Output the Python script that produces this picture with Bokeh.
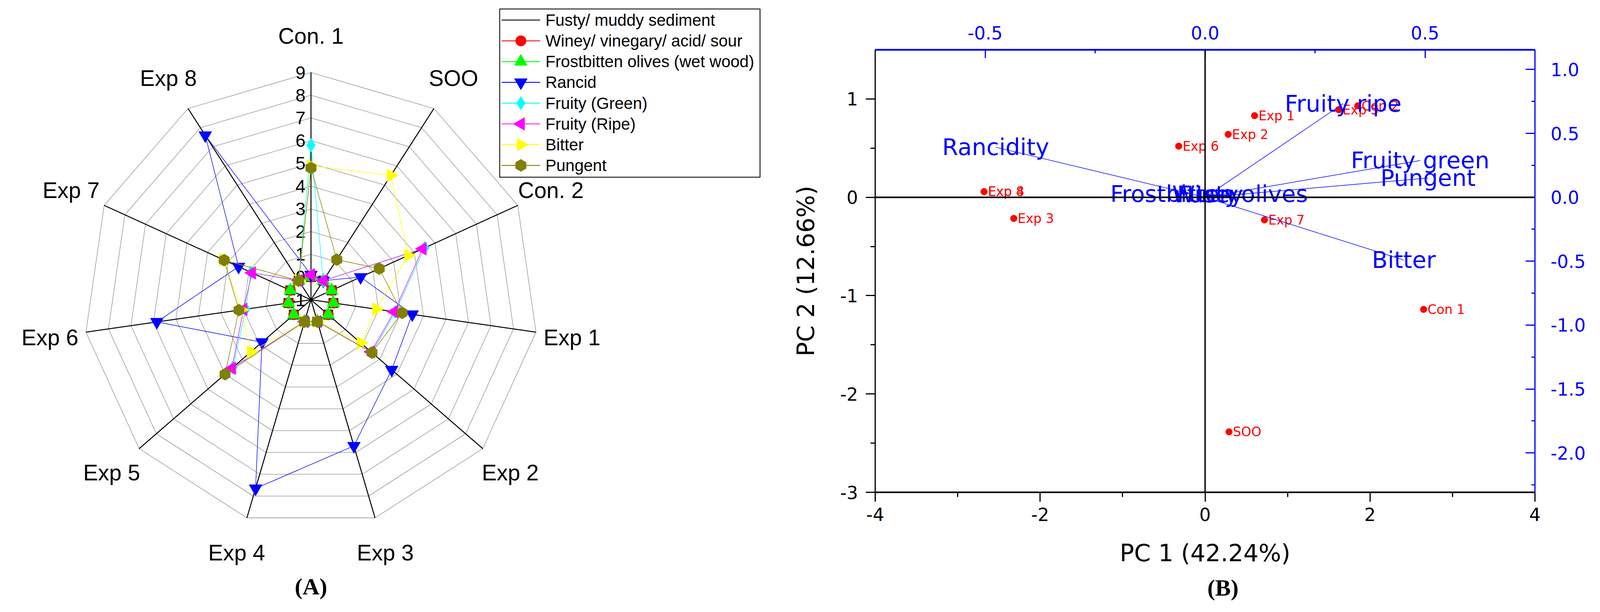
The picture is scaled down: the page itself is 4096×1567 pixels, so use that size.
import numpy as np
from bokeh.plotting import figure
from bokeh.models import Range1d, LinearAxis, FixedTicker, PrintfTickFormatter, Span
from bokeh.layouts import row
from bokeh.core.properties import value
from bokeh.embed import file_html
from bokeh.resources import INLINE

# ---------------- data: panel A (sensory radar) ----------------
radar_categories = ["Con. 1", "SOO", "Con. 2", "Exp 1", "Exp 2", "Exp 3",
                    "Exp 4", "Exp 5", "Exp 6", "Exp 7", "Exp 8"]
radar_tick_values = [-1, 0, 1, 2, 3, 4, 5, 6, 7, 8, 9]
radar_tick_labels = ["-1", "0", "1", "2", "3", "4", "5", "6", "7", "8", "9"]
radar_min, radar_max = -1, 9
attribute_names = ["Fusty/ muddy sediment", "Winey/ vinegary/ acid/ sour",
                   "Frostbitten olives (wet wood)", "Rancid", "Fruity (Green)",
                   "Fruity (Ripe)", "Bitter", "Pungent"]
fusty        = [0, 0, 0, 0, 0, 0, 0, 0, 0, 0, 0]
winey        = [0, 0, 0, 0, 0, 0, 0, 0, 0, 0, 0]
frostbitten  = [0, 0, 0, 0, 0, 0, 0, 0, 0, 0, 0]
rancid       = [0.1, 0.0, 1.4, 3.5, 3.7, 5.7, 7.65, 1.85, 5.85, 2.5, 7.6]
fruity_green = [5.8, 0.0, 4.5, 2.75, 2.55, 0.0, 0.0, 3.55, 1.9, 1.9, 0.0]
fruity_ripe  = [0.1, 0.0, 4.4, 2.7, 2.5, 0.0, 0.0, 3.6, 2.0, 1.85, 0.0]
bitter       = [4.9, 5.5, 3.7, 1.9, 1.9, 0.0, 0.0, 2.5, 2.1, 3.25, 0.0]
pungent      = [4.8, 1.1, 2.3, 3.05, 2.55, 0.0, 0.0, 4.0, 2.2, 3.2, 0.0]

# ---------------- data: panel B (PCA biplot) ----------------
sample_names = ["Con 1", "SOO", "Con 2", "Exp 1", "Exp 2", "Exp 3",
                "Exp 4", "Exp 5", "Exp 6", "Exp 7", "Exp 8"]
pc1_scores = [2.65, 0.29, 1.85, 0.60, 0.28, -2.32, -2.68, 1.62, -0.32, 0.72, -2.68]
pc2_scores = [-1.14, -2.385, 0.93, 0.83, 0.64, -0.215, 0.057, 0.89, 0.52, -0.23, 0.057]
loading_names = ["Frostbitten olives", "Fusty", "Winey", "Rancidity",
                 "Fruity green", "Fruity ripe", "Bitter", "Pungent"]
loading_pc1 = [0.009, 0.006, 0.006, -0.476, 0.489, 0.314, 0.452, 0.507]
loading_pc2 = [0.026, 0.024, 0.024, 0.392, 0.288, 0.733, -0.491, 0.151]
pc1_label = "PC 1 (42.24%)"
pc2_label = "PC 2 (12.66%)"
score_x_ticks = [-4, -2, 0, 2, 4]
score_x_minor = [-3, -1, 1, 3]
score_y_ticks = [-3, -2, -1, 0, 1]
score_y_minor = [-2.5, -1.5, -0.5, 0.5]
loading_x_ticks = [-0.5, 0.0, 0.5]
loading_x_minor = [-0.75, -0.25, 0.25, 0.75]
loading_y_ticks = [-2.0, -1.5, -1.0, -0.5, 0.0, 0.5, 1.0]
loading_y_minor = [-2.25, -1.75, -1.25, -0.75, -0.25, 0.25, 0.75]
panel_labels = ["(A)", "(B)"]

# ---------------- layout constants (pixels) ----------------
S = 0.951                      # reference -> page scale
SANS = "Liberation Sans"
WIDE = "DejaVu Sans"
SERIF = "Liberation Serif"
FT, FH, FB_BORDER = 127, 1133, 291   # shared frame top, frame height, bottom border
FBOT = FT + FH

def fig_px(ref):               # reference pixel -> figure pixel
    return ref * S - 8

# ================= Panel A =================
UNIT = 61.2 * S                # px per radar unit
WA = 1970
CXf, CYf = fig_px(845), fig_px(815)

def X(fx):
    return (fx - CXf) / UNIT

def Y(fy):
    return (CYf - fy) / UNIT

pA = figure(frame_width=WA, frame_height=FH, title=None,
            x_range=Range1d(X(0), X(WA)), y_range=Range1d(Y(FBOT), Y(FT)),
            x_axis_location=None, y_axis_location=None,
            toolbar_location=None, output_backend="svg",
            min_border_top=FT, min_border_bottom=FB_BORDER, min_border_left=0, min_border_right=0,
            outline_line_color=None, background_fill_color="white")
pA.grid.visible = False
LV = "overlay"   # draw without clipping to the frame

n = len(radar_categories)
ang = 2 * np.pi * np.arange(n) / n
sin_a, cos_a = np.sin(ang), np.cos(ang)
R = radar_max - radar_min

ring_xs, ring_ys = [], []
for t in radar_tick_values[1:]:
    r = t - radar_min
    ring_xs.append(list(np.append(r * sin_a, r * sin_a[0])))
    ring_ys.append(list(np.append(r * cos_a, r * cos_a[0])))
pA.multi_line(ring_xs, ring_ys, line_color="#8c8c8c", line_width=1.3, level=LV)
pA.segment(x0=[0] * n, y0=[0] * n, x1=list(R * sin_a), y1=list(R * cos_a),
           line_color="black", line_width=2.5, level=LV)

pA.text(x=[0] * len(radar_tick_values),
        y=[t - radar_min for t in radar_tick_values],
        text=radar_tick_labels, x_offset=-14, text_align="right", text_baseline="middle",
        text_font=value(SANS), text_font_size="46px", text_color="black", level=LV)
LR = 11.6
pA.text(x=list(LR * sin_a), y=list(LR * cos_a), text=radar_categories,
        text_align="center", text_baseline="middle",
        text_font=value(SANS), text_font_size="57px", text_color="black", level=LV)

series = [fusty, winey, frostbitten, rancid, fruity_green, fruity_ripe, bitter, pungent]
line_colors = ["#000000", "#ff0000", "#00ff00", "#0000ff", "#00ffff", "#ff00ff", "#ffff00", "#808000"]
markers = ["square", "circle", "triangle", "inverted_triangle", "diamond", "triangle", "triangle", "hex"]
angles = [0, 0, 0, 0, 0, np.pi / 2, -np.pi / 2, np.pi / 6]
sizes = [24, 27, 33, 33, 34, 33, 33, 31]

for vals, col, mk, an, sz in zip(series, line_colors, markers, angles, sizes):
    r = np.array(vals, dtype=float) - radar_min
    xs, ys = r * sin_a, r * cos_a
    pA.line(list(np.append(xs, xs[0])), list(np.append(ys, ys[0])),
            line_color=col, line_width=1.4, level=LV)
    pA.scatter(list(xs), list(ys), marker=mk, size=sz, angle=an,
               fill_color=col, line_color=col, level=LV)

# legend box (drawn as a framed key like the original)
LEG_FONT = 42
leg_left, leg_top, leg_bottom = fig_px(1353), fig_px(32), fig_px(485)
txt_x = fig_px(1476)
leg_right = txt_x + 12.75 * LEG_FONT + 14
pA.quad(left=[X(leg_left)], right=[X(leg_right)], top=[Y(leg_top)], bottom=[Y(leg_bottom)],
        fill_color="white", line_color="#222222", line_width=2.5, level=LV)
k = len(attribute_names)
row_y = [Y(fig_px(62 + 55.9 * i)) for i in range(k)]
pA.segment(x0=[X(fig_px(1358))] * k, x1=[X(fig_px(1462))] * k, y0=row_y, y1=row_y,
           line_color=line_colors, line_width=2.2, level=LV)
for i in range(k):
    pA.scatter([X(fig_px(1410))], [row_y[i]], marker=markers[i], size=sizes[i], angle=angles[i],
               fill_color=line_colors[i], line_color=line_colors[i], level=LV)
pA.text(x=[X(txt_x)] * k, y=row_y, text=attribute_names,
        text_align="left", text_baseline="middle",
        text_font=value(SANS), text_font_size=f"{LEG_FONT}px", text_color="black", level=LV)

pA.text(x=[0], y=[Y(fig_px(1587))], text=[panel_labels[0]],
        text_align="center", text_baseline="middle",
        text_font=value(SERIF), text_font_style="bold", text_font_size="60px",
        text_color="black", level=LV)

# ================= Panel B =================
FWB = 1689
pB = figure(frame_width=FWB, frame_height=FH, title=None,
            x_range=Range1d(-4, 4), y_range=Range1d(-3, 1.5),
            toolbar_location=None, output_backend="svg",
            min_border_left=270, min_border_right=151, min_border_top=FT, min_border_bottom=FB_BORDER,
            outline_line_color=None, background_fill_color="white")
pB.grid.visible = False
pB.extra_x_ranges = {"top": Range1d(-0.75, 0.75)}
pB.extra_y_ranges = {"right": Range1d(-3 / 1.3, 1.5 / 1.3)}

BLUE = "#0000ff"
xb = pB.xaxis[0]
xb.ticker = FixedTicker(ticks=score_x_ticks, minor_ticks=score_x_minor)
xb.formatter = PrintfTickFormatter(format="%d")
yl = pB.yaxis[0]
yl.ticker = FixedTicker(ticks=score_y_ticks, minor_ticks=score_y_minor)
yl.formatter = PrintfTickFormatter(format="%d")
for ax, lw in ((xb, 4), (yl, 3)):
    ax.axis_line_width = lw
    ax.axis_line_color = "black"
    ax.major_tick_line_width = 3
    ax.minor_tick_line_width = 3
    ax.major_tick_out = 24
    ax.major_tick_in = 0
    ax.minor_tick_out = 12
    ax.minor_tick_in = 0
    ax.major_label_text_font = WIDE
    ax.major_label_text_font_size = "46px"
    ax.major_label_text_color = "black"
    ax.axis_label_text_font = WIDE
    ax.axis_label_text_font_size = "61px"
    ax.axis_label_text_font_style = "normal"
    ax.axis_label_text_color = "black"
xb.major_label_standoff = 15
xb.axis_label = pc1_label
xb.axis_label_standoff = 43
yl.major_label_standoff = 20
yl.axis_label = pc2_label
yl.axis_label_standoff = 50

xt = LinearAxis(x_range_name="top",
                ticker=FixedTicker(ticks=loading_x_ticks, minor_ticks=loading_x_minor),
                formatter=PrintfTickFormatter(format="%.1f"))
yr = LinearAxis(y_range_name="right",
                ticker=FixedTicker(ticks=loading_y_ticks, minor_ticks=loading_y_minor),
                formatter=PrintfTickFormatter(format="%.1f"))
for ax, lw, mj in ((xt, 4.5, 21), (yr, 3, 24)):
    ax.axis_line_width = lw
    ax.axis_line_color = BLUE
    ax.major_tick_line_color = BLUE
    ax.minor_tick_line_color = BLUE
    ax.major_tick_line_width = 3
    ax.minor_tick_line_width = 3
    ax.major_tick_out = 0
    ax.major_tick_in = mj
    ax.minor_tick_out = 0
    ax.minor_tick_in = 9
    ax.major_label_text_font = WIDE
    ax.major_label_text_font_size = "46px"
    ax.major_label_text_color = BLUE
xt.major_label_standoff = 27
yr.major_label_standoff = 40
pB.add_layout(xt, "above")
pB.add_layout(yr, "right")

pB.add_layout(Span(location=0, dimension="width", line_color="black", line_width=4))
pB.add_layout(Span(location=0, dimension="height", line_color="black", line_width=3.5))

pB.scatter(pc1_scores, pc2_scores, marker="circle", size=17, fill_color="#ff0000", line_color="#ff0000")
pB.text(x=pc1_scores, y=pc2_scores, text=sample_names, x_offset=10,
        text_align="left", text_baseline="middle",
        text_font=value(WIDE), text_font_size="33px", text_color="#ff0000")
m = len(loading_names)
pB.segment(x0=[0] * m, y0=[0] * m, x1=loading_pc1, y1=loading_pc2,
           x_range_name="top", y_range_name="right", line_color=BLUE, line_width=1.5)
pB.text(x=loading_pc1, y=loading_pc2, text=loading_names,
        x_range_name="top", y_range_name="right",
        text_align="center", text_baseline="middle",
        text_font=value(WIDE), text_font_size="59px", text_color=BLUE)

# panel label (B), placed below the axis title
px_per_x = FWB / 8.0
px_per_y = FH / 4.5
pB.text(x=[-4 + (3300 - 2364) * S / px_per_x], y=[-3 - (1590 - 1333) * S / px_per_y],
        text=[panel_labels[1]], text_align="center", text_baseline="middle",
        text_font=value(SERIF), text_font_style="bold", text_font_size="60px",
        text_color="black", level="overlay")

layout = row(pA, pB)
open("out.html", "w").write(file_html(layout, INLINE))
